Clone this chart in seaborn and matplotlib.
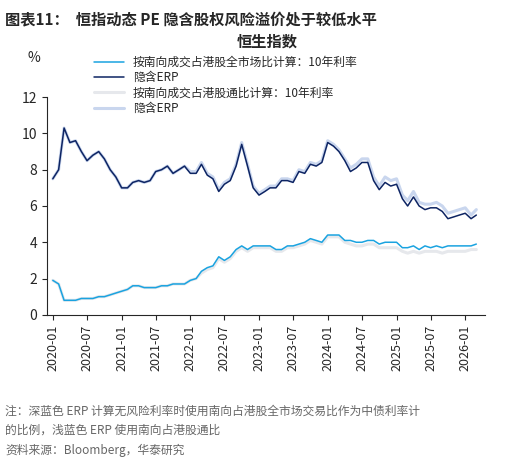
import matplotlib
matplotlib.use("Agg")
import matplotlib.pyplot as plt
import seaborn as sns
import pandas as pd

sns.set_style("ticks")
plt.rcParams['font.family'] = ['Noto Sans CJK SC', 'DejaVu Sans']

dates = pd.date_range("2020-01-01", "2026-03-01", freq="MS")
rate_full = [1.9,1.7,0.8,0.8,0.8,0.9,0.9,0.9,1.0,1.0,1.1,1.2,
             1.3,1.4,1.6,1.6,1.5,1.5,1.5,1.6,1.6,1.7,1.7,1.7,
             1.9,2.0,2.4,2.6,2.7,3.2,3.0,3.2,3.6,3.8,3.6,3.8,
             3.8,3.8,3.8,3.6,3.6,3.8,3.8,3.9,4.0,4.2,4.1,4.0,
             4.4,4.4,4.4,4.1,4.1,4.0,4.0,4.1,4.1,3.9,4.0,4.0,
             4.0,3.7,3.7,3.8,3.6,3.8,3.7,3.8,3.7,3.8,3.8,3.8,
             3.8,3.8,3.9]
erp_full = [7.5,8.0,10.3,9.5,9.6,9.0,8.5,8.8,9.0,8.6,8.0,7.6,
            7.0,7.0,7.3,7.4,7.3,7.4,7.9,8.0,8.2,7.8,8.0,8.2,
            7.8,7.8,8.3,7.7,7.5,6.8,7.2,7.4,8.2,9.4,8.2,7.0,
            6.6,6.8,7.0,7.0,7.4,7.4,7.3,7.9,7.8,8.3,8.2,8.4,
            9.5,9.3,9.0,8.5,7.9,8.1,8.4,8.4,7.4,6.9,7.3,7.1,
            7.2,6.4,6.0,6.5,6.0,5.8,5.9,5.9,5.7,5.3,5.4,5.5,
            5.6,5.3,5.5]
rate_sc = [1.9,1.7,0.8,0.8,0.8,0.9,0.9,0.9,1.0,1.0,1.1,1.2,
           1.3,1.4,1.6,1.6,1.5,1.5,1.5,1.6,1.6,1.7,1.7,1.7,
           1.9,2.0,2.3,2.5,2.6,3.1,2.9,3.1,3.5,3.7,3.5,3.7,
           3.7,3.7,3.7,3.5,3.5,3.7,3.7,3.8,3.9,4.1,4.0,3.9,
           4.3,4.3,4.3,4.0,3.9,3.8,3.8,3.9,3.9,3.7,3.7,3.7,
           3.7,3.5,3.4,3.5,3.4,3.5,3.5,3.5,3.4,3.5,3.5,3.5,
           3.5,3.6,3.6]
erp_sc = [7.5,8.0,10.3,9.5,9.6,9.0,8.5,8.8,9.0,8.6,8.0,7.6,
          7.0,7.0,7.3,7.4,7.3,7.4,7.9,8.0,8.2,7.8,8.0,8.2,
          7.9,7.9,8.4,7.8,7.6,6.9,7.3,7.5,8.3,9.5,8.3,7.1,
          6.7,6.9,7.1,7.1,7.5,7.5,7.4,8.0,7.9,8.4,8.3,8.5,
          9.6,9.4,9.1,8.6,8.1,8.3,8.6,8.6,7.6,7.1,7.6,7.4,
          7.5,6.6,6.3,6.8,6.2,6.1,6.1,6.2,6.0,5.6,5.7,5.8,
          5.9,5.5,5.8]
labels = ["按南向成交占港股全市场比计算：10年利率", "隐含ERP",
          "按南向成交占港股通比计算：10年利率", "隐含ERP"]

fig = plt.figure(figsize=(5.05, 4.65), dpi=100)
ax = fig.add_axes([0.093, 0.323, 0.867, 0.468])
sns.lineplot(x=dates, y=rate_sc, ax=ax, color="#e6e8ec", lw=2.2, label=labels[2])
sns.lineplot(x=dates, y=erp_sc, ax=ax, color="#c9d6ee", lw=2.2, label=labels[3])
sns.lineplot(x=dates, y=rate_full, ax=ax, color="#1aa3e0", lw=1.1, label=labels[0])
sns.lineplot(x=dates, y=erp_full, ax=ax, color="#0d2463", lw=1.1, label=labels[1])
h, l = ax.get_legend_handles_labels()
order = [2, 3, 0, 1]
ax.legend([h[i] for i in order], [l[i] for i in order], loc="upper left",
          bbox_to_anchor=(0.17, 0.898), bbox_transform=fig.transFigure,
          frameon=False, fontsize=8.5, handlelength=2.5, labelspacing=0.2,
          borderpad=0.2)
ax.set_ylim(0, 12)
ax.set_yticks([0, 2, 4, 6, 8, 10, 12])
ticks = pd.date_range("2020-01-01", "2026-01-01", freq="6MS")
ax.set_xticks(ticks)
ax.set_xticklabels([t.strftime("%Y-%m") for t in ticks], rotation=90, fontsize=9)
ax.set_xlim(pd.Timestamp("2019-12-01"), pd.Timestamp("2026-04-15"))
ax.tick_params(axis="y", labelsize=10)
sns.despine(ax=ax)
ax.set_xlabel(""); ax.set_ylabel("")
fig.text(0.53, 0.91, "恒生指数", ha="center", va="center", fontsize=11, fontweight="bold")
fig.text(0.055, 0.875, "%", fontsize=10, va="center")
fig.text(0.01, 0.975, "图表11：  恒指动态 PE 隐含股权风险溢价处于较低水平", fontsize=11,
         fontweight="bold", va="top")
fig.text(0.01, 0.13, "注：深蓝色 ERP 计算无风险利率时使用南向占港股全市场交易比作为中债利率计\n的比例，浅蓝色 ERP 使用南向占港股通比",
         fontsize=8.5, color="#666666", va="top", linespacing=1.6)
fig.text(0.01, 0.045, "资料来源：Bloomberg，华泰研究", fontsize=8.5, color="#666666", va="top")
fig.savefig("out.png", dpi=100)
